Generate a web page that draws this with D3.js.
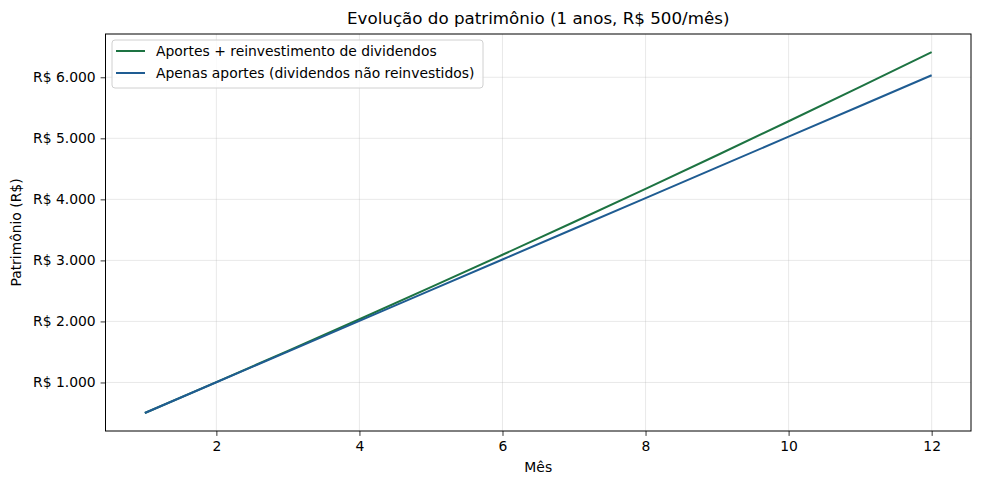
<!DOCTYPE html>
<html>
<head>
<meta charset="utf-8">
<script src="https://cdn.jsdelivr.net/npm/d3@7"></script>
<style>
  body { margin: 0; background: #fff; }
  svg { font-family: "DejaVu Sans", sans-serif; }
</style>
</head>
<body>
<svg id="chart" width="982" height="487"></svg>
<script>
// ---- Data ----
const meses = [1, 2, 3, 4, 5, 6, 7, 8, 9, 10, 11, 12];
const comReinvestimento = [500, 1006, 1518, 2036, 2561, 3092, 3629, 4173, 4723, 5280, 5843, 6413];
const semReinvestimento = [500, 1003, 1506, 2009, 2512, 3015, 3518, 4021, 4524, 5027, 5530, 6033];
const xTicks = [2, 4, 6, 8, 10, 12];
const yTicks = [1000, 2000, 3000, 4000, 5000, 6000];
const series = [
  { label: "Aportes + reinvestimento de dividendos", values: comReinvestimento, color: "#1d7342" },
  { label: "Apenas aportes (dividendos não reinvestidos)", values: semReinvestimento, color: "#1f5c92" }
];

const margin = { top: 34, right: 11, bottom: 56, left: 105.5 };
const width = 982, height = 487;
const svg = d3.select("#chart");

const x = d3.scaleLinear().domain([0.45, 12.55]).range([margin.left, width - margin.right]);
const y = d3.scaleLinear().domain([205, 6709]).range([height - margin.bottom, margin.top]);

const fmt = v => "R$ " + d3.format(",")(v).replace(/,/g, ".");

// grid
svg.append("g").selectAll("line").data(xTicks).join("line")
  .attr("x1", d => x(d)).attr("x2", d => x(d))
  .attr("y1", margin.top).attr("y2", height - margin.bottom)
  .attr("stroke", "#b0b0b0").attr("stroke-opacity", 0.35).attr("stroke-width", 0.8);
svg.append("g").selectAll("line").data(yTicks).join("line")
  .attr("x1", margin.left).attr("x2", width - margin.right)
  .attr("y1", d => y(d)).attr("y2", d => y(d))
  .attr("stroke", "#b0b0b0").attr("stroke-opacity", 0.35).attr("stroke-width", 0.8);

// lines
const line = d3.line().x((d, i) => x(meses[i])).y(d => y(d));
series.forEach(s => {
  svg.append("path")
    .attr("d", line(s.values))
    .attr("fill", "none")
    .attr("stroke", s.color)
    .attr("stroke-width", 2);
});

// axes
const xAxis = d3.axisBottom(x).tickValues(xTicks).tickSize(4.9).tickPadding(4.9);
const yAxis = d3.axisLeft(y).tickValues(yTicks).tickSize(4.9).tickPadding(4.9).tickFormat(fmt);
const gx = svg.append("g").attr("transform", `translate(0,${height - margin.bottom})`).call(xAxis);
const gy = svg.append("g").attr("transform", `translate(${margin.left},0)`).call(yAxis);
[gx, gy].forEach(g => {
  g.select(".domain").remove();
  g.selectAll("text").attr("font-size", 13.9).attr("fill", "#000").attr("font-family", "DejaVu Sans");
  g.selectAll(".tick line").attr("stroke", "#000").attr("stroke-width", 0.8);
});

// frame
svg.append("rect")
  .attr("x", margin.left).attr("y", margin.top)
  .attr("width", width - margin.right - margin.left)
  .attr("height", height - margin.bottom - margin.top)
  .attr("fill", "none").attr("stroke", "#000").attr("stroke-width", 1);

// title & labels
svg.append("text").attr("x", (margin.left + width - margin.right) / 2).attr("y", 24)
  .attr("text-anchor", "middle").attr("font-size", 16.7)
  .text("Evolução do patrimônio (1 anos, R$ 500/mês)");
svg.append("text").attr("x", (margin.left + width - margin.right) / 2).attr("y", 472)
  .attr("text-anchor", "middle").attr("font-size", 13.9).text("Mês");
svg.append("text")
  .attr("transform", `translate(21,${(margin.top + height - margin.bottom) / 2}) rotate(-90)`)
  .attr("text-anchor", "middle").attr("font-size", 13.9).text("Patrimônio (R$)");

// legend
const leg = svg.append("g").attr("transform", "translate(112,40)");
leg.append("rect").attr("width", 371).attr("height", 48).attr("rx", 3)
  .attr("fill", "#fff").attr("fill-opacity", 0.8).attr("stroke", "#d0d0d0");
series.forEach((s, i) => {
  const yy = 11 + i * 22;
  leg.append("line").attr("x1", 4).attr("x2", 33).attr("y1", yy).attr("y2", yy)
    .attr("stroke", s.color).attr("stroke-width", 2);
  leg.append("text").attr("x", 44).attr("y", yy + 5).attr("font-size", 13.9).text(s.label);
});
</script>
</body>
</html>
